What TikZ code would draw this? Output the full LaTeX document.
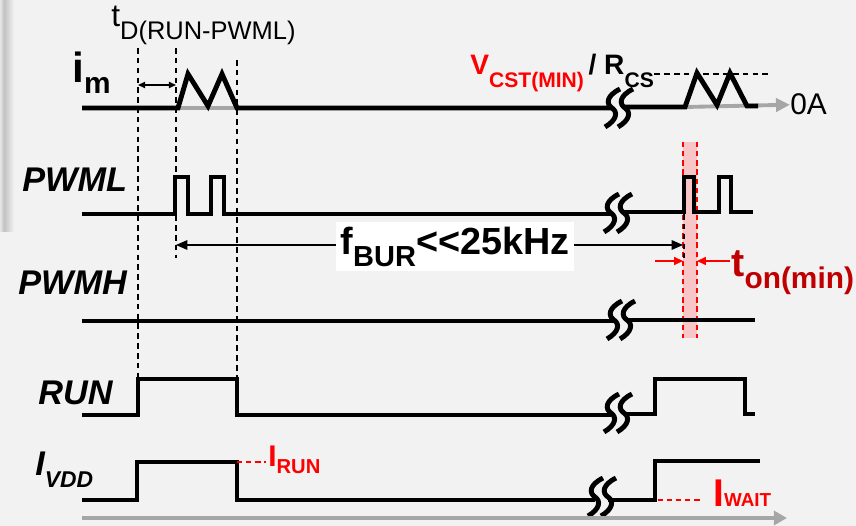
\documentclass[tikz,border=0pt]{standalone}
\usepackage{fontspec}
\setmainfont{Liberation Sans}
\usepackage{tikz}
\usetikzlibrary{arrows.meta, positioning, calc}
\definecolor{bggray}{HTML}{F2F2F2}
\definecolor{axgray}{HTML}{A6A6A6}
\definecolor{tonred}{HTML}{C00000}
\definecolor{bandred}{HTML}{F8C6C6}
\tikzstyle{wave}=[line width=2.8pt, black, line join=miter]
\tikzstyle{guide}=[line width=0.6pt, black, dash pattern=on 3.2pt off 2.4pt]
\tikzstyle{redguide}=[line width=0.6pt, red, dash pattern=on 3pt off 2.2pt]
\tikzstyle{timeaxis}=[line width=2.2pt, color=axgray]
\newcommand{\lo}[3][0.3em]{\raisebox{-#1}{\fontsize{#2}{#2}\selectfont #3}}

\begin{document}
\begin{tikzpicture}[x=0.02cm, y=-0.02cm,
  sig/.style={anchor=base west, inner sep=0pt,
              font=\fontsize{19.5pt}{20pt}\selectfont\bfseries\itshape},
  note/.style={anchor=base west, inner sep=0pt, font=\bfseries},
  brk/.pic={\draw[wave] (8,-19) .. controls (-6,-12) and (-6,-4) .. (0,0)
                        .. controls (6,4) and (5,12) .. (-7,19);}
]
% Background
\fill[bggray] (0,0) rectangle (856,526);
\shade[left color=black!10, right color=black!24] (0,0) rectangle (4,232);
\shade[left color=black!24, right color=bggray] (4,0) rectangle (14,232);
\useasboundingbox (0,0) rectangle (856,526);

% Dashed guides
\draw[guide] (138,48) -- (138,379);
\draw[guide] (176,48) -- (176,258);
\draw[guide] (237,60) -- (237,379);

% i_m
\node[note, font=\fontsize{24pt}{24pt}\selectfont\bfseries] (im) at (72,83) {i\lo[0.25em]{17pt}{m}};
\node[anchor=base west, inner sep=0pt, font=\fontsize{18pt}{18pt}\selectfont] (tdlbl) at (111,27) {t\lo[0.38em]{14.5pt}{D(RUN-PWML)}};
\coordinate (td-l) at (138,85);
\coordinate (td-r) at (176,85);
\draw[line width=0.8pt, {Triangle[length=4pt,width=3.5pt]}-{Triangle[length=4pt,width=3.5pt]}] (td-l) -- (td-r);
\draw[timeaxis] (178,108) -- (237,108);
\draw[wave] (82,108) -- (178,108) -- (188,74) -- (208,106) -- (222,74) -- (237,108) -- (612,108);
\pic at (612,108) {brk};
\pic at (625,108) {brk};
\node[anchor=base west, inner sep=0pt, font=\fontsize{17pt}{17pt}\selectfont] (zero) at (790,115) {0A};
\coordinate (zero-l) at (685,107);
\draw[timeaxis, -{Triangle[length=8pt,width=7.5pt]}] (zero-l) -- (zero.west);
\draw[wave] (625,107) -- (685,107) -- (697,73) -- (717,105) -- (730,73) -- (747,106) -- (758,106);
\node[note, font=\fontsize{16pt}{16pt}\selectfont\bfseries] (vcst) at (470,75)
  {\textcolor{red}{V\lo[0.43em]{12pt}{CST(MIN)}}\,/ R\lo[0.43em]{12pt}{CS}};
\coordinate (vcst-r) at (772,74);
\draw[guide] (vcst.east |- vcst-r) -- (vcst-r);

% PWML
\node[sig] (pwml) at (22,192) {PWML};
\draw[wave] (82,214) -- (175,214) -- (175,177) -- (188,177) -- (188,214) -- (211,214)
  -- (211,177) -- (224,177) -- (224,214) -- (611,214);
\pic at (611,213) {brk};
\pic at (624,213) {brk};
\fill[bandred] (683,142) rectangle (697,338);
\draw[redguide] (683,142) -- (683,338);
\draw[redguide] (697,142) -- (697,338);
\draw[wave] (624,212) -- (684,212) -- (684,177) -- (694,177) -- (694,212) -- (719,212)
  -- (719,177) -- (731,177) -- (731,212) -- (753,212);
\draw[guide] (684,214) -- (684,258);

% Burst frequency
\coordinate (fb-l) at (176,245);
\coordinate (fb-r) at (683,245);
\draw[line width=0.6pt, {Triangle[length=6.5pt,width=5.5pt]}-{Triangle[length=6.5pt,width=5.5pt]}] (fb-l) -- (fb-r);
\node[fill=white, minimum width=4.78cm, minimum height=0.98cm, inner sep=0pt,
      font=\fontsize{21.5pt}{22pt}\selectfont\bfseries] (fbur) at (455,247) {f\lo[0.32em]{16.5pt}{BUR}<{}<25kHz};

% Minimum on-time
\coordinate (ton-a) at (655,261);
\coordinate (ton-b) at (683,261);
\coordinate (ton-c) at (730,261);
\coordinate (ton-d) at (697,261);
\draw[red, line width=0.7pt, -{Triangle[length=5pt,width=4.5pt]}] (ton-a) -- (ton-b);
\draw[red, line width=0.7pt, -{Triangle[length=5pt,width=4.5pt]}] (ton-c) -- (ton-d);
\node[note, text=tonred, font=\fontsize{22.5pt}{23pt}\selectfont\bfseries] (ton) at (731,277) {t\lo[0.28em]{17pt}{on(min)}};

% PWMH
\node[sig] (pwmh) at (18,295) {PWMH};
\draw[wave] (82,321) -- (614,321);
\pic at (614,320) {brk};
\pic at (627,320) {brk};
\draw[wave] (627,320) -- (755,320);

% RUN
\node[sig] (run) at (38,405) {RUN};
\draw[wave] (82,415) -- (138,415) -- (138,379) -- (237,379) -- (237,415) -- (611,415);
\pic at (611,413) {brk};
\pic at (624,413) {brk};
\draw[wave] (624,414) -- (655,414) -- (655,379) -- (745,379) -- (745,414) -- (755,414);

% I_VDD
\node[sig] (ivdd) at (35,476) {I\lo[0.35em]{13pt}{VDD}};
\draw[wave] (82,500) -- (137,500) -- (137,462) -- (237,462) -- (237,500) -- (595,500);
\pic at (595,497) {brk};
\pic at (608,497) {brk};
\draw[redguide] (612,500) -- (703,500);
\draw[wave] (608,500) -- (655,500) -- (655,461) -- (760,461);
\draw[redguide] (237,462) -- (266,462);
\node[note, text=red, font=\fontsize{17pt}{17pt}\selectfont\bfseries] (irun) at (268,467) {I\lo[0.23em]{11.5pt}{RUN}};
\node[note, text=red, font=\fontsize{22pt}{22pt}\selectfont\bfseries] (iwait) at (713,507) {I\lo[0em]{10.7pt}{WAIT}};

% Time axis
\coordinate (t0) at (82,518);
\coordinate (t1) at (787,518);
\draw[timeaxis, -{Triangle[length=7.5pt,width=8pt]}] (t0) -- (t1);
\end{tikzpicture}
\end{document}
